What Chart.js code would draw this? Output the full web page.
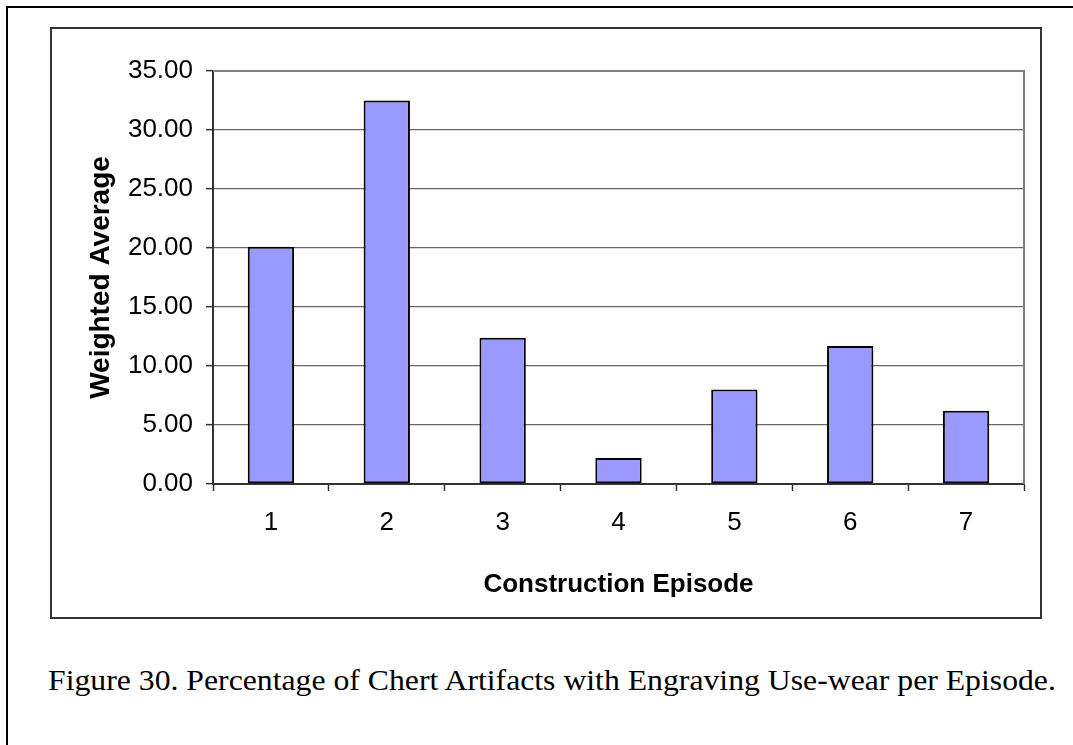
<!DOCTYPE html>
<html>
<head>
<meta charset="utf-8">
<script src="https://cdn.jsdelivr.net/npm/chart.js@4"></script>
<style>
  html, body { margin: 0; padding: 0; background: #fff; }
  body { width: 1073px; height: 745px; position: relative; overflow: hidden; }
  #frame { position: absolute; left: 6px; top: 6px; width: 1200px; height: 900px; border: 2px solid #000; box-sizing: border-box; }
  #box { position: absolute; left: 50px; top: 27px; width: 992px; height: 592px; border: 2px solid #333; box-sizing: border-box; }
  #box canvas { position: absolute; left: 0; top: 0; }
  #caption { position: absolute; left: 48px; top: 664px; font-family: "Liberation Serif", "Times New Roman", serif; font-size: 29px; color: #000; white-space: nowrap; transform: scaleX(1.094); transform-origin: left top; }
</style>
</head>
<body>
<div id="frame"></div>
<div id="box"><canvas id="chart" width="988" height="588"></canvas></div>
<div id="caption">Figure 30. Percentage of Chert Artifacts with Engraving Use-wear per Episode.</div>
<script>
const episodes = ["1", "2", "3", "4", "5", "6", "7"];
const weightedAverage = [20.1, 32.5, 12.4, 2.2, 8.0, 11.7, 6.2];
const yTicks = [0, 5, 10, 15, 20, 25, 30, 35];

const FONT = "'Liberation Sans', Arial, sans-serif";

// top/right edge of the plot box
const plotFrame = {
  id: "plotFrame",
  afterDraw(chart) {
    const { ctx, chartArea: a } = chart;
    ctx.save();
    ctx.strokeStyle = "#808080";
    ctx.lineWidth = 2;
    ctx.beginPath();
    ctx.moveTo(a.left, a.top);
    ctx.lineTo(a.right, a.top);
    ctx.lineTo(a.right, a.bottom);
    ctx.stroke();
    ctx.restore();
  }
};

new Chart(document.getElementById("chart"), {
  type: "bar",
  data: {
    labels: episodes,
    datasets: [{
      data: weightedAverage,
      backgroundColor: "#9999FF",
      borderColor: "#000000",
      borderWidth: 2,
      borderSkipped: false,
      barPercentage: 0.4,
      categoryPercentage: 1.0
    }]
  },
  options: {
    responsive: false,
    animation: false,
    layout: { padding: { left: 0, top: 42, right: 16, bottom: 0 } },
    plugins: { legend: { display: false }, tooltip: { enabled: false } },
    scales: {
      x: {
        afterFit(s) { s.height = 133; },
        grid: { drawOnChartArea: false, drawTicks: true, tickLength: 7, tickColor: "#333", tickWidth: 1.5 },
        border: { color: "#333", width: 2 },
        ticks: { color: "#000", padding: 16, font: { family: FONT, size: 26 } },
        title: {
          display: true,
          text: "Construction Episode",
          color: "#000",
          padding: { top: 0, bottom: 17 },
          font: { family: FONT, size: 26, weight: "bold" }
        }
      },
      y: {
        min: 0,
        max: 35,
        afterFit(s) { s.width = 161; },
        afterBuildTicks(s) { s.ticks = yTicks.map(v => ({ value: v })); },
        grid: { color: "#666", lineWidth: 1.3, drawTicks: true, tickLength: 7, tickColor: "#333", tickWidth: 1.5 },
        border: { color: "#333", width: 2 },
        ticks: {
          color: "#000",
          padding: 13,
          font: { family: FONT, size: 26 },
          callback: v => Number(v).toFixed(2)
        },
        title: {
          display: true,
          text: "Weighted Average",
          color: "#000",
          padding: { top: 32, bottom: 0 },
          font: { family: FONT, size: 28, weight: "bold" }
        }
      }
    }
  },
  plugins: [plotFrame]
});
</script>
</body>
</html>
